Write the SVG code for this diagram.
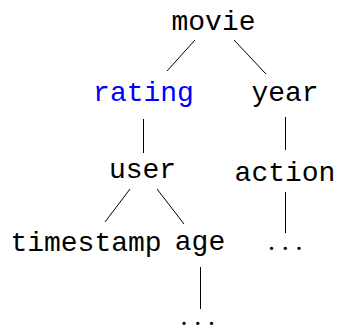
<svg xmlns="http://www.w3.org/2000/svg" width="339" height="329" viewBox="0 0 339 329">
<style>
.t{font-family:"Liberation Mono","DejaVu Sans Mono",monospace;font-size:28px;fill:#000;text-anchor:middle}
.b{fill:#0000ff}
.d{font-family:"Liberation Serif",serif;font-size:28px;fill:#000;letter-spacing:6.8px}
.e{stroke:#000;stroke-width:1;fill:none}
</style>
<rect width="339" height="329" fill="#fff"/>
<g id="connectors">
<line class="e" x1="195" y1="40" x2="167" y2="71"/>
<line class="e" x1="234" y1="40" x2="266" y2="74"/>
<line class="e" x1="143.5" y1="119" x2="143.5" y2="153"/>
<line class="e" x1="285.5" y1="117" x2="285.5" y2="150"/>
<line class="e" x1="130" y1="189" x2="105" y2="222"/>
<line class="e" x1="157" y1="189" x2="184" y2="224"/>
<line class="e" x1="200.5" y1="267" x2="200.5" y2="309"/>
<line class="e" x1="285.5" y1="192" x2="285.5" y2="233"/>
</g>
<g id="movie"><text class="t" x="213.5" y="30">movie</text></g>
<g id="rating"><text class="t b" x="143.5" y="101">rating</text></g>
<g id="year"><text class="t" x="285" y="101">year</text></g>
<g id="user"><text class="t" x="142.5" y="178">user</text></g>
<g id="action"><text class="t" x="285" y="181">action</text></g>
<g id="timestamp"><text class="t" x="86" y="251">timestamp</text></g>
<g id="age"><text class="t" x="200" y="250">age</text></g>
<g id="dots1"><text class="d" x="268" y="250">...</text></g>
<g id="dots2"><text class="d" x="180.5" y="324.5">...</text></g>
</svg>
